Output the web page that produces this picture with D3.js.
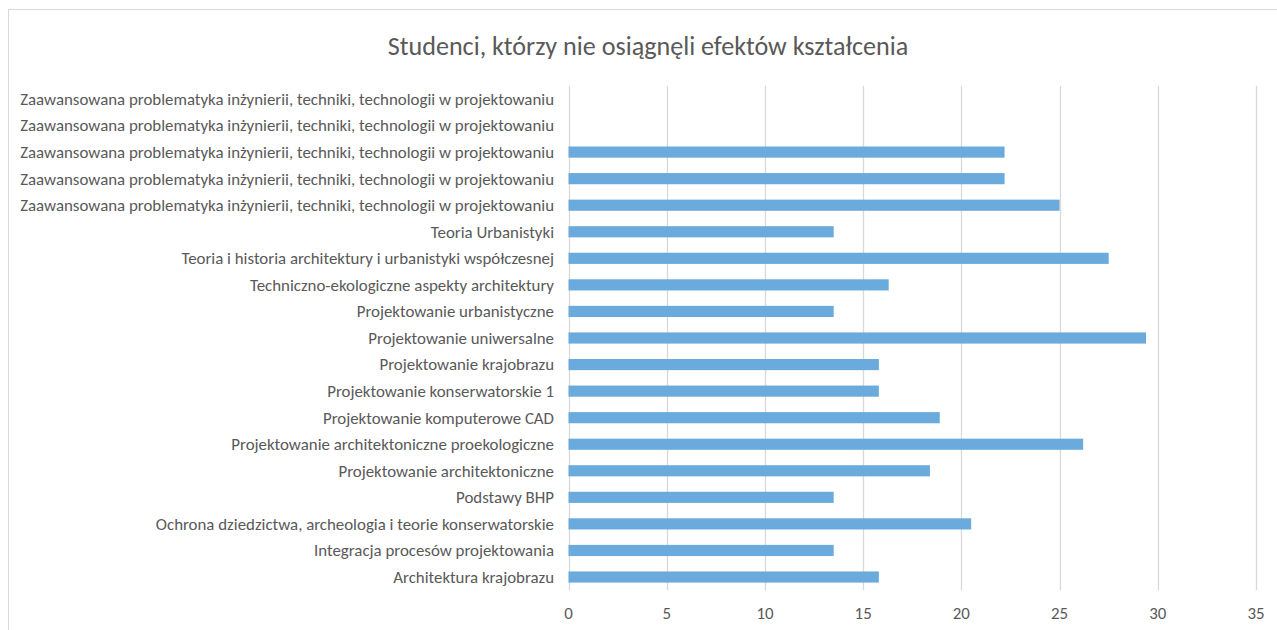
<!DOCTYPE html>
<html>
<head>
<meta charset="utf-8">
<script src="https://cdn.jsdelivr.net/npm/d3@7"></script>
<style>
  html, body { margin: 0; padding: 0; background: #ffffff; }
  svg { display: block; }
  text { font-family: "Carlito", "Calibri", "Open Sans", "Noto Sans", sans-serif; fill: #595959; }
</style>
</head>
<body>
<svg id="chart" width="1277" height="630"></svg>
<script>
const title = "Studenci, którzy nie osiągnęli efektów kształcenia";

const categories = [
  "Architektura krajobrazu",
  "Integracja procesów projektowania",
  "Ochrona dziedzictwa, archeologia i teorie konserwatorskie",
  "Podstawy BHP",
  "Projektowanie architektoniczne",
  "Projektowanie architektoniczne proekologiczne",
  "Projektowanie komputerowe CAD",
  "Projektowanie konserwatorskie 1",
  "Projektowanie krajobrazu",
  "Projektowanie uniwersalne",
  "Projektowanie urbanistyczne",
  "Techniczno-ekologiczne aspekty architektury",
  "Teoria i historia architektury i urbanistyki współczesnej",
  "Teoria Urbanistyki",
  "Zaawansowana problematyka inżynierii, techniki, technologii w projektowaniu",
  "Zaawansowana problematyka inżynierii, techniki, technologii w projektowaniu",
  "Zaawansowana problematyka inżynierii, techniki, technologii w projektowaniu",
  "Zaawansowana problematyka inżynierii, techniki, technologii w projektowaniu",
  "Zaawansowana problematyka inżynierii, techniki, technologii w projektowaniu"
];

const values = [15.8, 13.5, 20.5, 13.5, 18.4, 26.2, 18.9, 15.8, 15.8, 29.4, 13.5, 16.3, 27.5, 13.5, 25.0, 22.2, 22.2, 0, 0];

const tickValues = [0, 5, 10, 15, 20, 25, 30, 35];

const svg = d3.select("#chart");

// chart border
svg.append("rect")
  .attr("x", 8.5).attr("y", 9.5)
  .attr("width", 1290).attr("height", 640)
  .attr("fill", "none").attr("stroke", "#d9d9d9").attr("stroke-width", 1);

const plotLeft = 568.5, plotRight = 1256;
const plotTop = 85.7, plotBottom = 590.3;

const x = d3.scaleLinear().domain([0, 35]).range([plotLeft, plotRight]);
const idx = categories.map((d, i) => i);
const y = d3.scaleBand().domain(idx).range([plotBottom, plotTop]).paddingInner(0.58).paddingOuter(0.29);

// gridlines
svg.append("g").selectAll("line").data(tickValues).join("line")
  .attr("x1", d => Math.round(x(d)) + 0.5).attr("x2", d => Math.round(x(d)) + 0.5)
  .attr("y1", plotTop).attr("y2", plotBottom)
  .attr("stroke", "#d9d9d9").attr("stroke-width", 1.3);

// bars
svg.append("g").selectAll("rect").data(idx).join("rect")
  .attr("x", x(0))
  .attr("y", i => y(i))
  .attr("width", i => x(values[i]) - x(0))
  .attr("height", y.bandwidth())
  .attr("fill", "#6aaadc");

// category labels
const labels = svg.append("g").selectAll("text").data(idx).join("text")
  .attr("x", 554)
  .attr("y", i => y(i) + y.bandwidth() / 2)
  .attr("dy", "0.35em")
  .attr("text-anchor", "end")
  .style("font-size", "14px")
  .text(i => categories[i]);

// fit label font to reference width
let maxW = 0;
labels.each(function() { maxW = Math.max(maxW, this.getComputedTextLength()); });
const fs = 14 * 534 / maxW;
labels.style("font-size", fs + "px");

// x tick labels
svg.append("g").selectAll("text").data(tickValues).join("text")
  .attr("x", d => x(d))
  .attr("y", 613)
  .attr("dy", "0.35em")
  .attr("text-anchor", "middle")
  .style("font-size", fs + "px")
  .text(d => d);

// title
const t = svg.append("text")
  .attr("x", 648).attr("y", 46).attr("dy", "0.35em")
  .attr("text-anchor", "middle")
  .style("font-size", "20px")
  .text(title);
const tw = t.node().getComputedTextLength();
t.style("font-size", (20 * 521 / tw) + "px");
</script>
</body>
</html>
